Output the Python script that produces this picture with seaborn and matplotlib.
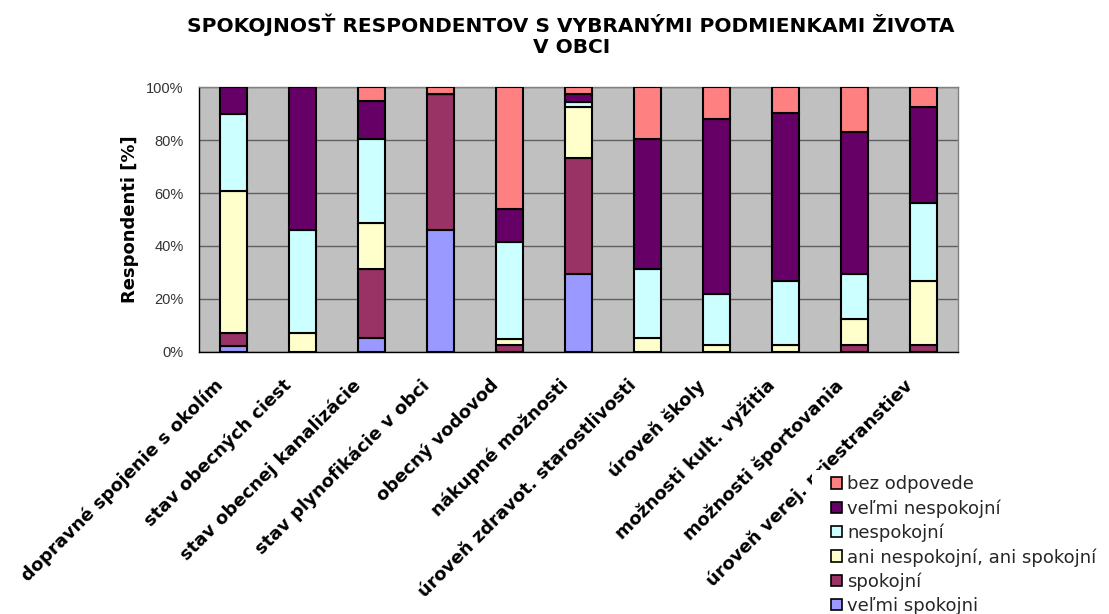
import numpy as np
import pandas as pd
import matplotlib
matplotlib.use('Agg')
import matplotlib.pyplot as plt
import matplotlib.transforms as mtransforms
from matplotlib.patches import Patch, Rectangle
import seaborn as sns

# data (percent of respondents)
categories = [
    'dopravné spojenie s okolím',
    'stav obecných ciest',
    'stav obecnej kanalizácie',
    'stav plynofikácie v obci',
    'obecný vodovod',
    'nákupné možnosti',
    'úroveň zdravot. starostlivosti',
    'úroveň školy',
    'možnosti kult. vyžitia',
    'možnosti športovania',
    'úroveň verej. priestranstiev',
]
series_names = ['veľmi spokojni', 'spokojní', 'ani nespokojní, ani spokojní',
                'nespokojní', 'veľmi nespokojní', 'bez odpovede']
velmi_spokojni = [2.1, 0, 5.0, 46.0, 0, 29.3, 0, 0, 0, 0, 0]
spokojni = [5.1, 0, 26.4, 51.7, 2.3, 44.1, 0, 0, 0, 2.3, 2.3]
ani_ani = [53.7, 7.2, 17.4, 0, 2.6, 19.3, 5.0, 2.3, 2.3, 9.9, 24.4]
nespokojni = [29.1, 38.8, 31.7, 0, 36.7, 1.9, 26.4, 19.4, 24.4, 17.1, 29.4]
velmi_nespokojni = [10.0, 54.0, 14.3, 0, 12.5, 3.1, 49.1, 66.2, 63.5, 53.7, 36.6]
bez_odpovede = [0, 0, 5.2, 2.3, 45.9, 2.3, 19.5, 12.1, 9.8, 17.0, 7.3]
colors = ['#9999FF', '#993366', '#FFFFCC', '#CCFFFF', '#660066', '#FF8080']

series = [velmi_spokojni, spokojni, ani_ani, nespokojni, velmi_nespokojni, bez_odpovede]

sns.set_style('white')
plt.rcParams['font.family'] = ['DejaVu Sans']

fig = plt.figure(figsize=(11.09, 6.14), dpi=100)
ax = fig.add_axes([0.1795, 0.4275, 0.6845, 0.43])
ax.set_facecolor('#C0C0C0')

bottom = np.zeros(len(categories))
for name, vals, col in zip(series_names, series, colors):
    sns.barplot(x=categories, y=vals, bottom=bottom, color=col, saturation=1,
                edgecolor='black', linewidth=1.5, width=0.4, ax=ax,
                order=categories, zorder=3)
    bottom = bottom + np.array(vals)

ax.set_ylim(0, 100)
ax.set_xlim(-0.5, len(categories) - 0.5)
ax.set_yticks([0, 20, 40, 60, 80, 100])
ax.set_yticklabels(['0%', '20%', '40%', '60%', '80%', '100%'], fontsize=10.5,
                   color='#333333', family='Liberation Sans')
ax.yaxis.grid(True, color='#606060', linewidth=1, zorder=1)
ax.set_axisbelow(True)
ax.tick_params(axis='y', length=5, width=1, color='black', pad=6)

# category boundary ticks
ax.set_xticks(np.arange(-0.5, len(categories), 1.0), minor=True)
ax.tick_params(axis='x', which='minor', length=5, width=1, color='black')
ax.tick_params(axis='x', which='major', length=0, pad=12)
ax.set_xticks(range(len(categories)))
ax.set_xticklabels(categories, rotation=45, ha='right', rotation_mode='anchor',
                   fontsize=13, fontweight='bold', color='black')
offset = mtransforms.ScaledTranslation(-0.2, -0.08, fig.dpi_scale_trans)
for lbl in ax.get_xticklabels():
    lbl.set_transform(lbl.get_transform() + offset)

for side in ['top', 'right']:
    ax.spines[side].set_color('#808080')
    ax.spines[side].set_linewidth(1)
for side in ['left', 'bottom']:
    ax.spines[side].set_color('black')
    ax.spines[side].set_linewidth(1)

ax.set_xlabel('')
ax.set_ylabel('Respondenti [%]', fontsize=13, fontweight='bold', labelpad=5, color='black')

fig.suptitle('SPOKOJNOSŤ RESPONDENTOV S VYBRANÝMI PODMIENKAMI ŽIVOTA\nV OBCI',
             x=0.515, y=0.978, fontsize=14.5, fontweight='bold', linespacing=1.15,
             color='black')

# white legend area that covers the end of the last category label
fig.patches.append(Rectangle((0.732, 0.0), 0.27, 0.235, transform=fig.transFigure,
                             facecolor='white', edgecolor='none', zorder=4))

handles = [Patch(facecolor=c, edgecolor='black', linewidth=1.2) for c in colors][::-1]
fig.legend(handles, series_names[::-1], loc='upper left', bbox_to_anchor=(0.748, 0.229),
           frameon=False, fontsize=13, handlelength=0.6, handleheight=0.6,
           handletextpad=0.28, labelspacing=0.33, borderpad=0.1, borderaxespad=0)

fig.savefig('out.png', dpi=100)
